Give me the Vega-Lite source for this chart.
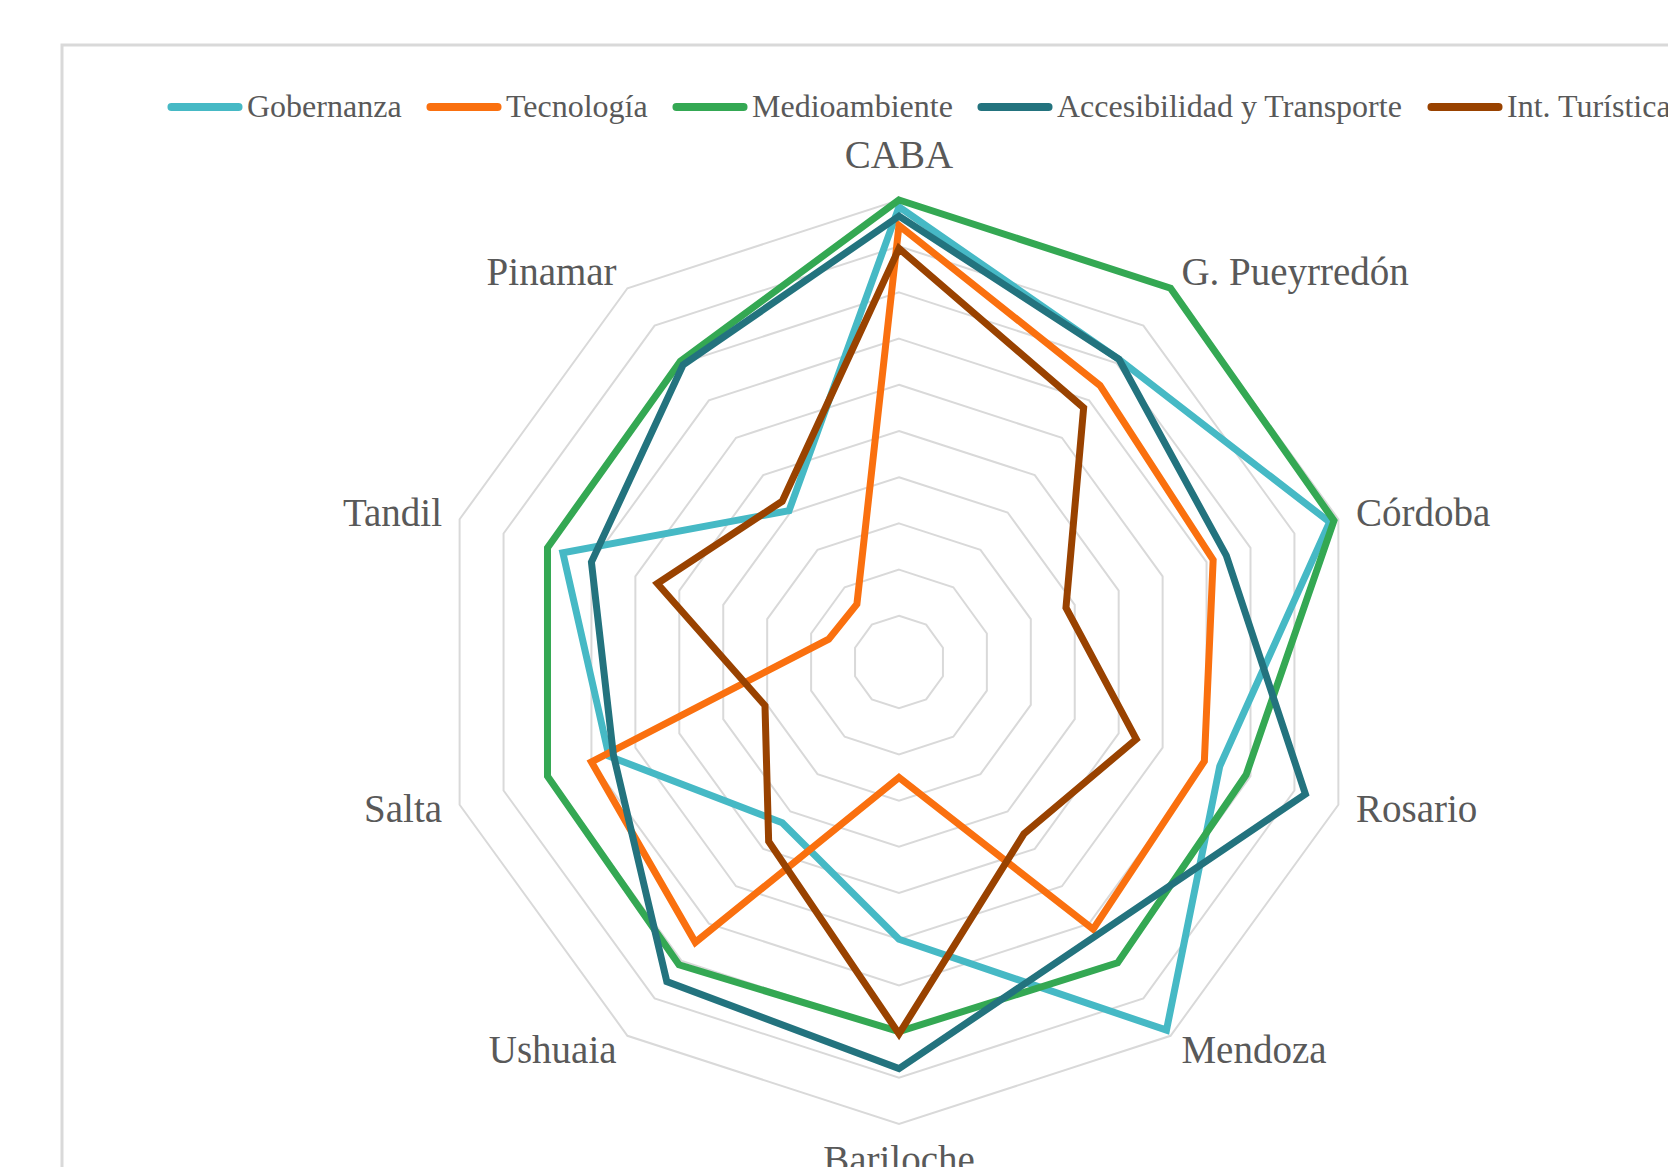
{
  "$schema": "https://vega.github.io/schema/vega-lite/v6.json",
  "width": 1610,
  "height": 1126,
  "autosize": {"type": "none"},
  "padding": {"left": 62, "top": 45, "right": 0, "bottom": 0},
  "background": "white",
  "config": {
    "view": {"stroke": "#d9d9d9", "strokeWidth": 3},
    "font": "Liberation Serif"
  },
  "datasets": {
    "ciudades": [
      {"ciudad": "CABA", "orden": 0},
      {"ciudad": "G. Pueyrredón", "orden": 1},
      {"ciudad": "Córdoba", "orden": 2},
      {"ciudad": "Rosario", "orden": 3},
      {"ciudad": "Mendoza", "orden": 4},
      {"ciudad": "Bariloche", "orden": 5},
      {"ciudad": "Ushuaia", "orden": 6},
      {"ciudad": "Salta", "orden": 7},
      {"ciudad": "Tandil", "orden": 8},
      {"ciudad": "Pinamar", "orden": 9}
    ],
    "niveles": [
      {"nivel": 1, "orden": [0,1,2,3,4,5,6,7,8,9]},
      {"nivel": 2, "orden": [0,1,2,3,4,5,6,7,8,9]},
      {"nivel": 3, "orden": [0,1,2,3,4,5,6,7,8,9]},
      {"nivel": 4, "orden": [0,1,2,3,4,5,6,7,8,9]},
      {"nivel": 5, "orden": [0,1,2,3,4,5,6,7,8,9]},
      {"nivel": 6, "orden": [0,1,2,3,4,5,6,7,8,9]},
      {"nivel": 7, "orden": [0,1,2,3,4,5,6,7,8,9]},
      {"nivel": 8, "orden": [0,1,2,3,4,5,6,7,8,9]},
      {"nivel": 9, "orden": [0,1,2,3,4,5,6,7,8,9]},
      {"nivel": 10, "orden": [0,1,2,3,4,5,6,7,8,9]}
    ],
    "puntajes": [
      {"serie": "Gobernanza", "ciudad": "CABA", "valor": 9.85},
      {"serie": "Gobernanza", "ciudad": "G. Pueyrredón", "valor": 8.1},
      {"serie": "Gobernanza", "ciudad": "Córdoba", "valor": 9.8},
      {"serie": "Gobernanza", "ciudad": "Rosario", "valor": 7.3},
      {"serie": "Gobernanza", "ciudad": "Mendoza", "valor": 9.85},
      {"serie": "Gobernanza", "ciudad": "Bariloche", "valor": 6.0},
      {"serie": "Gobernanza", "ciudad": "Ushuaia", "valor": 4.3},
      {"serie": "Gobernanza", "ciudad": "Salta", "valor": 6.6},
      {"serie": "Gobernanza", "ciudad": "Tandil", "valor": 7.65},
      {"serie": "Gobernanza", "ciudad": "Pinamar", "valor": 4.05},
      {"serie": "Tecnología", "ciudad": "CABA", "valor": 9.45},
      {"serie": "Tecnología", "ciudad": "G. Pueyrredón", "valor": 7.4},
      {"serie": "Tecnología", "ciudad": "Córdoba", "valor": 7.15},
      {"serie": "Tecnología", "ciudad": "Rosario", "valor": 6.95},
      {"serie": "Tecnología", "ciudad": "Mendoza", "valor": 7.15},
      {"serie": "Tecnología", "ciudad": "Bariloche", "valor": 2.5},
      {"serie": "Tecnología", "ciudad": "Ushuaia", "valor": 7.5},
      {"serie": "Tecnología", "ciudad": "Salta", "valor": 7.0},
      {"serie": "Tecnología", "ciudad": "Tandil", "valor": 1.6},
      {"serie": "Tecnología", "ciudad": "Pinamar", "valor": 1.55},
      {"serie": "Medioambiente", "ciudad": "CABA", "valor": 10.0},
      {"serie": "Medioambiente", "ciudad": "G. Pueyrredón", "valor": 10.0},
      {"serie": "Medioambiente", "ciudad": "Córdoba", "valor": 9.9},
      {"serie": "Medioambiente", "ciudad": "Rosario", "valor": 7.9},
      {"serie": "Medioambiente", "ciudad": "Mendoza", "valor": 8.05},
      {"serie": "Medioambiente", "ciudad": "Bariloche", "valor": 8.0},
      {"serie": "Medioambiente", "ciudad": "Ushuaia", "valor": 8.1},
      {"serie": "Medioambiente", "ciudad": "Salta", "valor": 8.0},
      {"serie": "Medioambiente", "ciudad": "Tandil", "valor": 8.0},
      {"serie": "Medioambiente", "ciudad": "Pinamar", "valor": 8.05},
      {"serie": "Accesibilidad y Transporte", "ciudad": "CABA", "valor": 9.65},
      {"serie": "Accesibilidad y Transporte", "ciudad": "G. Pueyrredón", "valor": 8.1},
      {"serie": "Accesibilidad y Transporte", "ciudad": "Córdoba", "valor": 7.45},
      {"serie": "Accesibilidad y Transporte", "ciudad": "Rosario", "valor": 9.25},
      {"serie": "Accesibilidad y Transporte", "ciudad": "Mendoza", "valor": 7.3},
      {"serie": "Accesibilidad y Transporte", "ciudad": "Bariloche", "valor": 8.8},
      {"serie": "Accesibilidad y Transporte", "ciudad": "Ushuaia", "valor": 8.55},
      {"serie": "Accesibilidad y Transporte", "ciudad": "Salta", "valor": 6.5},
      {"serie": "Accesibilidad y Transporte", "ciudad": "Tandil", "valor": 7.0},
      {"serie": "Accesibilidad y Transporte", "ciudad": "Pinamar", "valor": 7.95},
      {"serie": "Int. Turística", "ciudad": "CABA", "valor": 8.95},
      {"serie": "Int. Turística", "ciudad": "G. Pueyrredón", "valor": 6.8},
      {"serie": "Int. Turística", "ciudad": "Córdoba", "valor": 3.8},
      {"serie": "Int. Turística", "ciudad": "Rosario", "valor": 5.4},
      {"serie": "Int. Turística", "ciudad": "Mendoza", "valor": 4.6},
      {"serie": "Int. Turística", "ciudad": "Bariloche", "valor": 8.05},
      {"serie": "Int. Turística", "ciudad": "Ushuaia", "valor": 4.8},
      {"serie": "Int. Turística", "ciudad": "Salta", "valor": 3.05},
      {"serie": "Int. Turística", "ciudad": "Tandil", "valor": 5.5},
      {"serie": "Int. Turística", "ciudad": "Pinamar", "valor": 4.3}
    ]
  },
  "encoding": {
    "x": {"field": "px", "type": "quantitative", "scale": {"domain": [-18.117, 16.732], "nice": false, "zero": false}, "axis": null},
    "y": {"field": "py", "type": "quantitative", "scale": {"domain": [-11.017, 13.355], "nice": false, "zero": false}, "axis": null}
  },
  "layer": [
    {
      "data": {"name": "niveles"},
      "transform": [
        {"flatten": ["orden"]},
        {"calculate": "datum.orden * 2 * PI / 10", "as": "ang"},
        {"calculate": "datum.nivel * sin(datum.ang)", "as": "px"},
        {"calculate": "datum.nivel * cos(datum.ang)", "as": "py"}
      ],
      "mark": {"type": "line", "interpolate": "linear-closed", "stroke": "#d9d9d9", "strokeWidth": 2},
      "encoding": {
        "detail": {"field": "nivel", "type": "nominal"},
        "order": {"field": "orden", "type": "quantitative"}
      }
    },
    {
      "data": {"name": "puntajes"},
      "transform": [
        {"lookup": "ciudad", "from": {"data": {"name": "ciudades"}, "key": "ciudad", "fields": ["orden"]}},
        {"calculate": "datum.orden * 2 * PI / 10", "as": "ang"},
        {"calculate": "datum.valor * sin(datum.ang)", "as": "px"},
        {"calculate": "datum.valor * cos(datum.ang)", "as": "py"}
      ],
      "mark": {"type": "line", "interpolate": "linear-closed", "strokeWidth": 7},
      "encoding": {
        "color": {
          "field": "serie",
          "type": "nominal",
          "scale": {
            "domain": ["Gobernanza", "Tecnología", "Medioambiente", "Accesibilidad y Transporte", "Int. Turística"],
            "range": ["#46B9C5", "#FA700F", "#34A853", "#23737E", "#994200"]
          },
          "legend": {
            "orient": "none",
            "legendX": 105,
            "legendY": 24,
            "direction": "horizontal",
            "columns": 5,
            "title": null,
            "symbolType": "stroke",
            "symbolSize": 4500,
            "symbolStrokeWidth": 8,
            "labelFont": "Liberation Serif",
            "labelFontSize": 32,
            "labelColor": "#595959",
            "labelOffset": 4,
            "columnPadding": 12,
            "labelLimit": 600,
            "encode": {"symbols": {"update": {"strokeCap": {"value": "round"}}}}
          }
        },
        "order": {"field": "orden", "type": "quantitative"}
      }
    },
    {
      "data": {"name": "ciudades"},
      "transform": [
        {"filter": "datum.orden >= 1 && datum.orden <= 4"},
        {"calculate": "datum.orden * 2 * PI / 10", "as": "ang"},
        {"calculate": "10.4 * sin(datum.ang)", "as": "px"},
        {"calculate": "10.4 * cos(datum.ang)", "as": "py"}
      ],
      "mark": {"type": "text", "align": "left", "baseline": "middle", "fontSize": 39, "color": "#595959", "font": "Liberation Serif"},
      "encoding": {"text": {"field": "ciudad"}}
    },
    {
      "data": {"name": "ciudades"},
      "transform": [
        {"filter": "datum.orden >= 6"},
        {"calculate": "datum.orden * 2 * PI / 10", "as": "ang"},
        {"calculate": "10.4 * sin(datum.ang)", "as": "px"},
        {"calculate": "10.4 * cos(datum.ang)", "as": "py"}
      ],
      "mark": {"type": "text", "align": "right", "baseline": "middle", "fontSize": 39, "color": "#595959", "font": "Liberation Serif"},
      "encoding": {"text": {"field": "ciudad"}}
    },
    {
      "data": {"name": "ciudades"},
      "transform": [
        {"filter": "datum.orden == 0"},
        {"calculate": "datum.orden * 2 * PI / 10", "as": "ang"},
        {"calculate": "10.4 * sin(datum.ang)", "as": "px"},
        {"calculate": "10.4 * cos(datum.ang)", "as": "py"}
      ],
      "mark": {"type": "text", "align": "center", "baseline": "bottom", "dy": -6, "fontSize": 39, "color": "#595959", "font": "Liberation Serif"},
      "encoding": {"text": {"field": "ciudad"}}
    },
    {
      "data": {"name": "ciudades"},
      "transform": [
        {"filter": "datum.orden == 5"},
        {"calculate": "datum.orden * 2 * PI / 10", "as": "ang"},
        {"calculate": "10.4 * sin(datum.ang)", "as": "px"},
        {"calculate": "10.4 * cos(datum.ang)", "as": "py"}
      ],
      "mark": {"type": "text", "align": "center", "baseline": "top", "dy": 0, "fontSize": 39, "color": "#595959", "font": "Liberation Serif"},
      "encoding": {"text": {"field": "ciudad"}}
    }
  ]
}
